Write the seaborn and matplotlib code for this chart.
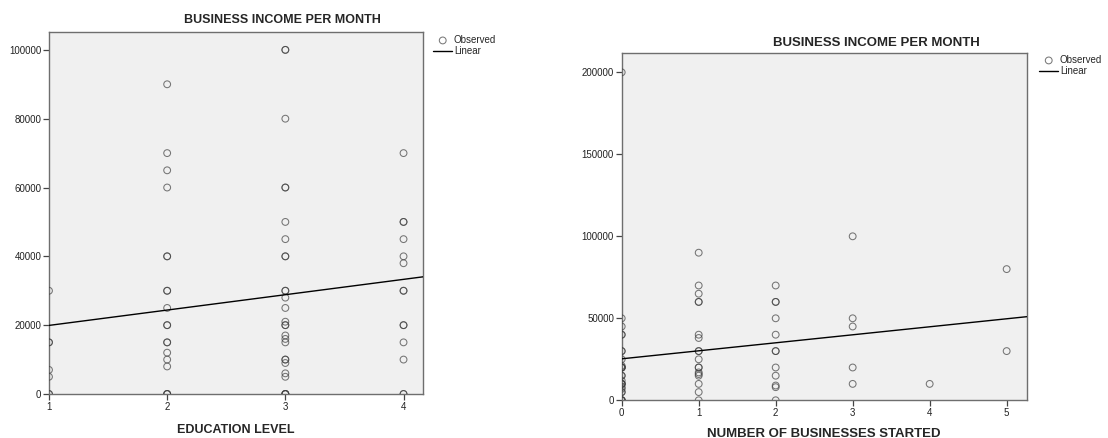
import numpy as np
import pandas as pd
import seaborn as sns
import matplotlib.pyplot as plt

# income per month, grouped by education level (1-4)
edu_1 = [30000, 15000, 15000, 7000, 5000, 0, 0]
edu_2 = [90000, 70000, 65000, 60000, 40000, 40000, 30000, 30000, 25000, 20000,
         20000, 15000, 15000, 12000, 10000, 8000, 0, 0, 0]
edu_3 = [100000, 100000, 80000, 60000, 60000, 50000, 45000, 40000, 40000, 30000,
         30000, 28000, 25000, 21000, 20000, 20000, 17000, 16000, 15000, 10000,
         10000, 9000, 6000, 5000, 0, 0, 0, 0]
edu_4 = [70000, 50000, 50000, 45000, 40000, 38000, 30000, 30000, 20000, 20000,
         15000, 10000, 0, 0]

# income per month, grouped by number of businesses started (0-5)
biz_0 = [200000, 50000, 45000, 40000, 40000, 30000, 30000, 25000, 21000, 20000,
         20000, 20000, 20000, 15000, 15000, 12000, 10000, 10000, 10000, 10000,
         8000, 7000, 5000, 5000, 0, 0, 0, 0]
biz_1 = [90000, 70000, 65000, 60000, 60000, 40000, 38000, 30000, 30000, 25000,
         20000, 20000, 17000, 16000, 15000, 10000, 5000, 0]
biz_2 = [70000, 60000, 60000, 50000, 40000, 30000, 30000, 20000, 15000, 9000, 8000, 0]
biz_3 = [100000, 50000, 45000, 20000, 10000]
biz_4 = [10000]
biz_5 = [80000, 30000]

edu_groups = {1: edu_1, 2: edu_2, 3: edu_3, 4: edu_4}
biz_groups = {0: biz_0, 1: biz_1, 2: biz_2, 3: biz_3, 4: biz_4, 5: biz_5}

edu_df = pd.DataFrame([(k, v) for k, vals in edu_groups.items() for v in vals],
                      columns=['edu', 'income'])
biz_df = pd.DataFrame([(k, v) for k, vals in biz_groups.items() for v in vals],
                      columns=['biz', 'income'])

sns.set_theme(style='ticks')
plt.rcParams['font.family'] = ['Liberation Sans', 'DejaVu Sans']

fig = plt.figure(figsize=(11.08, 4.38), dpi=100)
ax1 = fig.add_axes([0.0442, 0.1005, 0.3376, 0.8265])
ax2 = fig.add_axes([0.5611, 0.0861, 0.3655, 0.7922])

scat = dict(s=24, facecolors='none', edgecolors='#404040', linewidths=0.75,
            alpha=0.7, zorder=3)
line = dict(color='black', lw=1.0, zorder=4)


def style(ax):
    ax.set_facecolor('#f0f0f0')
    for s in ax.spines.values():
        s.set_color('#6e6e6e')
        s.set_linewidth(1.0)
    ax.tick_params(labelsize=7, length=4, width=0.9, color='#444444',
                   labelcolor='#222222', pad=1.5)
    ax.ticklabel_format(style='plain', axis='y')
    ax.set_ylabel('')
    # name the marks for the legend
    ax.collections[0].set_label('Observed')
    ax.lines[0].set_label('Linear')


# left panel: education level
ax1.set_xlim(1, 4.165)
ax1.set_ylim(0, 105200)
sns.regplot(data=edu_df, x='edu', y='income', ax=ax1, ci=None, truncate=False,
            scatter_kws=scat, line_kws=line)
ax1.set_xticks([1, 2, 3, 4])
ax1.set_yticks([0, 20000, 40000, 60000, 80000, 100000])
style(ax1)
ax1.set_xlabel('EDUCATION LEVEL', fontsize=9, fontweight='bold', labelpad=9)
fig.text(0.2545, 0.954, 'BUSINESS INCOME PER MONTH', fontsize=9,
         fontweight='bold', ha='center', va='center')

# right panel: number of businesses started
ax2.set_xlim(0, 5.26)
ax2.set_ylim(0, 211600)
sns.regplot(data=biz_df, x='biz', y='income', ax=ax2, ci=None, truncate=False,
            scatter_kws=scat, line_kws=line)
ax2.set_xticks([0, 1, 2, 3, 4, 5])
ax2.set_yticks([0, 50000, 100000, 150000, 200000])
style(ax2)
ax2.set_xlabel('NUMBER OF BUSINESSES STARTED', fontsize=9.5, fontweight='bold',
               labelpad=7)
fig.text(0.7906, 0.9018, 'BUSINESS INCOME PER MONTH', fontsize=9.5,
         fontweight='bold', ha='center', va='center')

# legends outside each panel
for ax, anchor in [(ax1, (433 / 1108, 1 - 35 / 438)),
                   (ax2, (1039 / 1108, 1 - 55 / 438))]:
    h, l = ax.get_legend_handles_labels()
    fig.legend(h, l, loc='upper left', bbox_to_anchor=anchor, frameon=False,
               fontsize=7, borderpad=0, borderaxespad=0, handlelength=2,
               handletextpad=0.15, labelspacing=0.15)

plt.savefig('out.png', dpi=100)
